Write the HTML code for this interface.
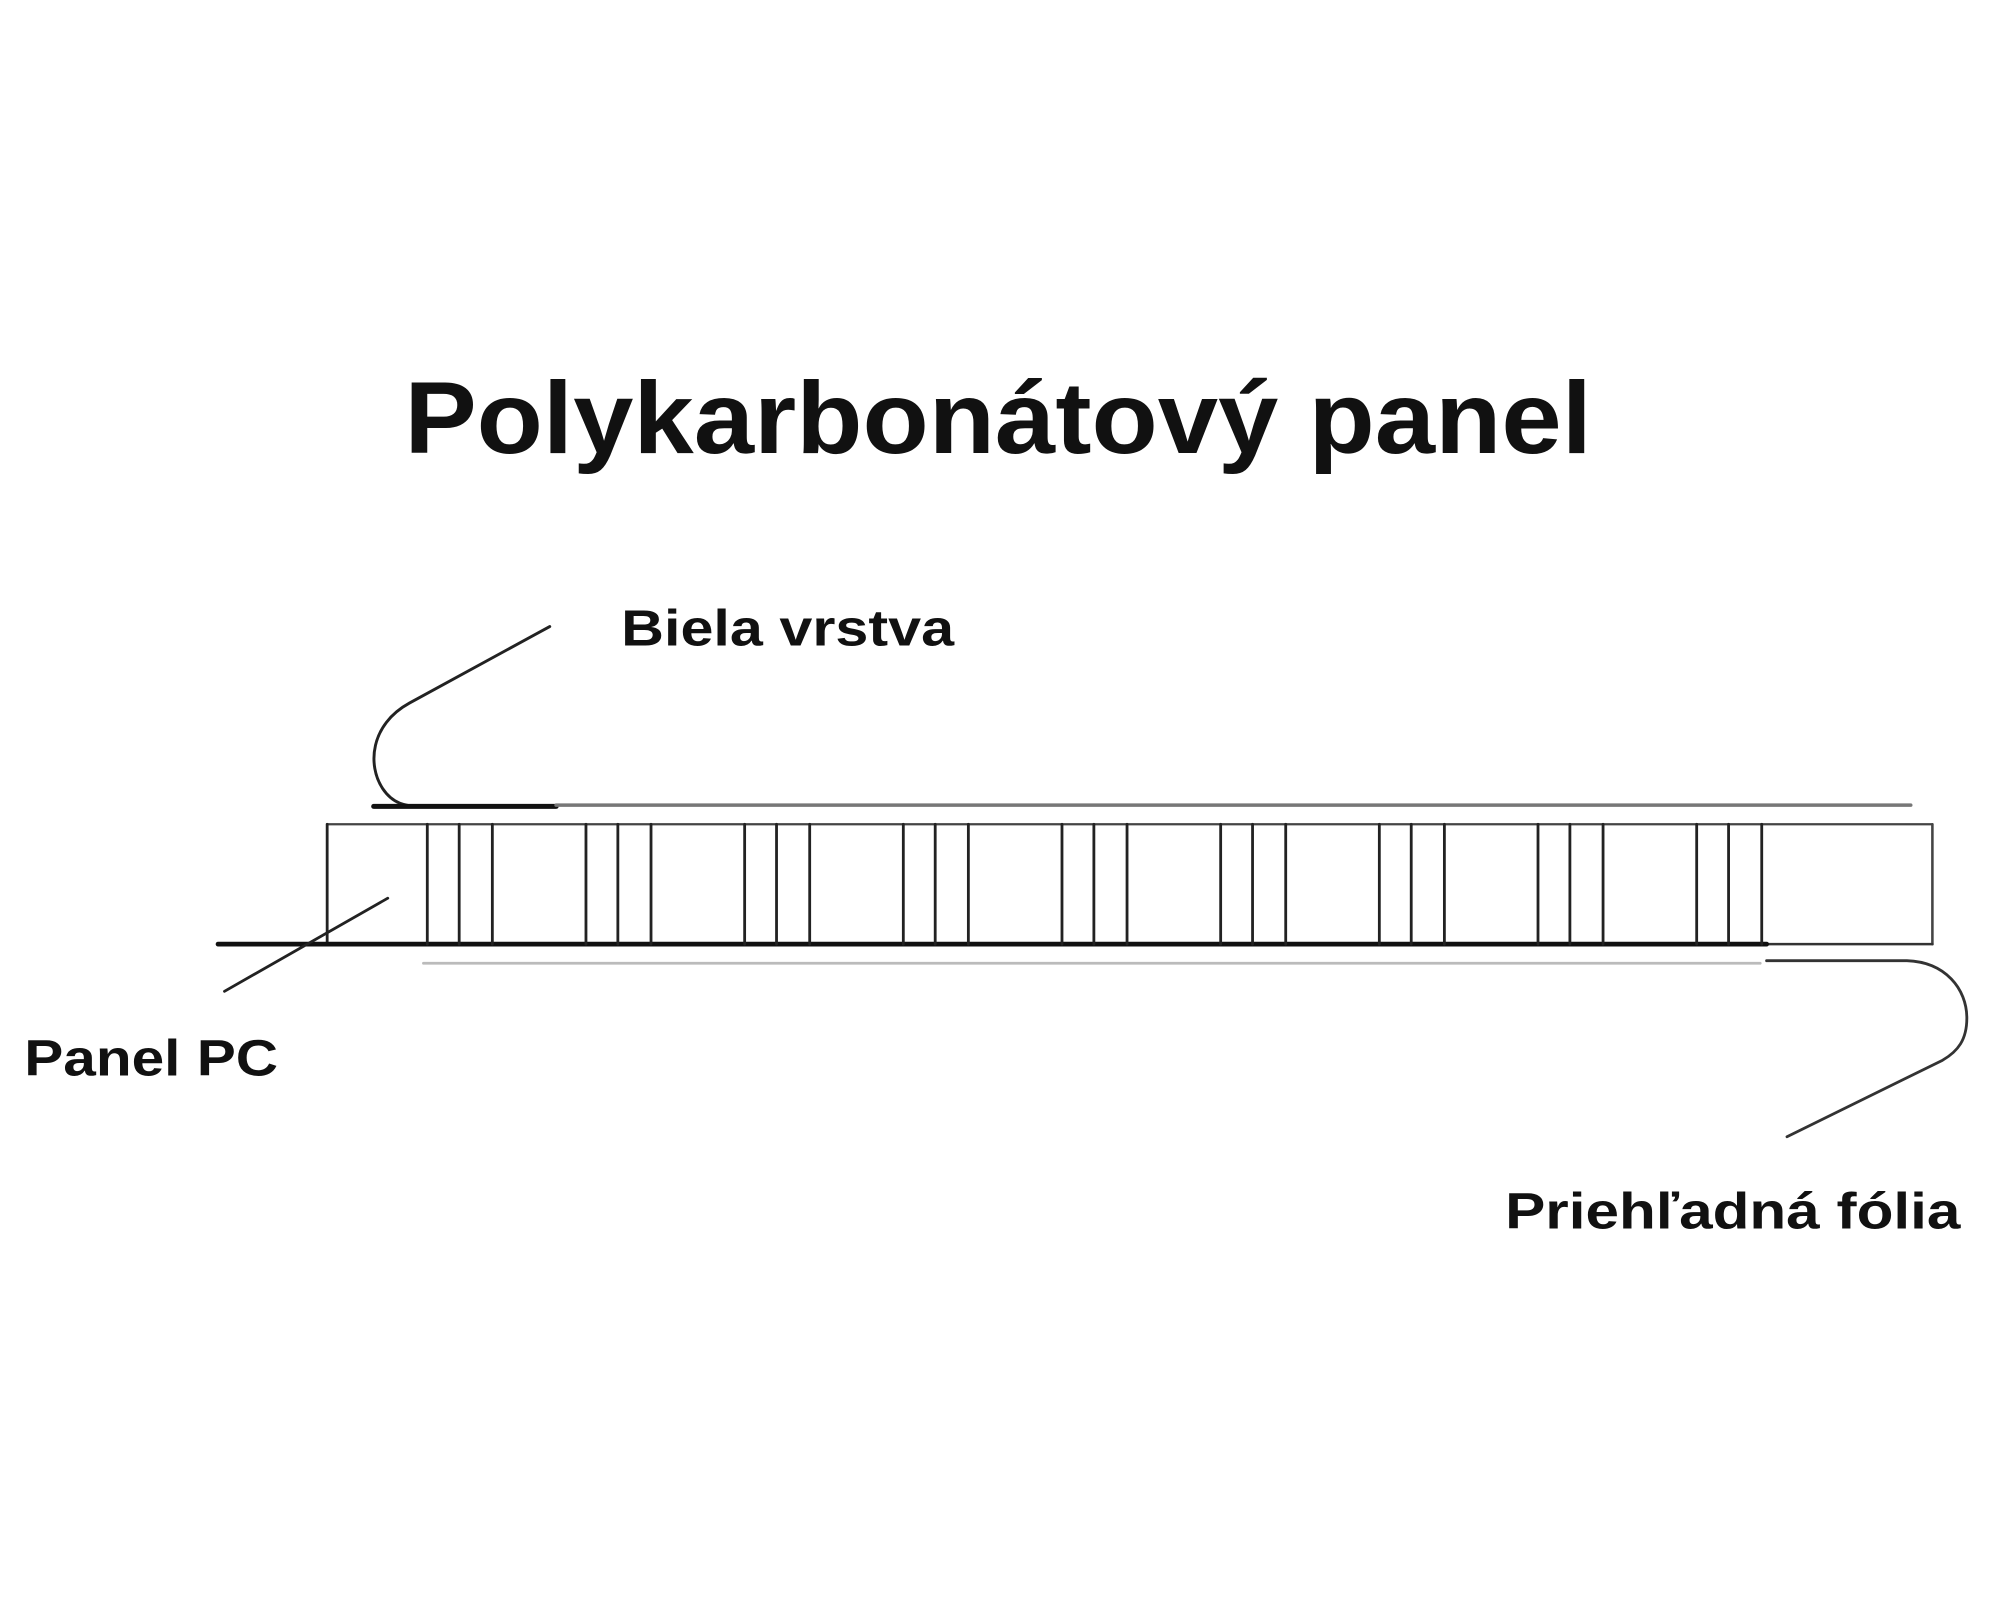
<!DOCTYPE html>
<html><head><meta charset="utf-8"><style>html,body{margin:0;padding:0;background:#fff}svg{display:block}</style></head>
<body>
<svg width="2000" height="1600" viewBox="0 0 1568 1254" xmlns="http://www.w3.org/2000/svg">
<rect width="1568" height="1254" fill="#fff"/>
<g font-family="Liberation Sans, sans-serif" font-weight="bold" fill="#111">
<text x="317" y="355" font-size="80" textLength="931" lengthAdjust="spacingAndGlyphs">Polykarbonátový panel</text>
<text x="487" y="506" font-size="40" textLength="261" lengthAdjust="spacingAndGlyphs">Biela vrstva</text>
<text x="19" y="843" font-size="40" textLength="199" lengthAdjust="spacingAndGlyphs">Panel PC</text>
<text x="1180" y="963" font-size="40" textLength="357" lengthAdjust="spacingAndGlyphs">Priehľadná fólia</text>
</g>
<g fill="none" stroke-linecap="round">
<path d="M431 491 L321 551 C290 568 288 600 300 618 C308 630 318 632 330 632" stroke="#222" stroke-width="2.3"/>
<line x1="293" y1="632" x2="436" y2="632" stroke="#111" stroke-width="4"/>
<line x1="436" y1="631" x2="1498" y2="631" stroke="#777" stroke-width="2.8"/>
<line x1="256.5" y1="646" x2="1515" y2="646" stroke="#444" stroke-width="1.8"/>
<line x1="256.5" y1="646" x2="256.5" y2="740" stroke="#222" stroke-width="2.2"/>
<line x1="1515" y1="646" x2="1515" y2="740" stroke="#444" stroke-width="2"/>
<line x1="1385" y1="740" x2="1515" y2="740" stroke="#333" stroke-width="2"/>
<line x1="171" y1="740" x2="1385" y2="740" stroke="#111" stroke-width="3.8"/>
<g stroke="#222" stroke-width="2.2">
<path d="M335 646V740M360 646V740M386 646V740
M459.4 646V740M484.4 646V740M510.4 646V740
M583.8 646V740M608.8 646V740M634.8 646V740
M708.2 646V740M733.2 646V740M759.2 646V740
M832.6 646V740M857.6 646V740M883.6 646V740
M957 646V740M982 646V740M1008 646V740
M1081.4 646V740M1106.4 646V740M1132.4 646V740
M1205.8 646V740M1230.8 646V740M1256.8 646V740
M1330.2 646V740M1355.2 646V740M1381.2 646V740"/>
</g>
<line x1="304" y1="704" x2="176" y2="777" stroke="#222" stroke-width="2.2"/>
<line x1="332" y1="755" x2="1380" y2="755" stroke="#bbb" stroke-width="2.2"/>
<path d="M1385 753 L1495 753 C1525 754 1542 775 1542 798 C1542 815 1535 824 1523 831 L1401 891" stroke="#333" stroke-width="2.2"/>
</g>
</svg>
</body></html>
